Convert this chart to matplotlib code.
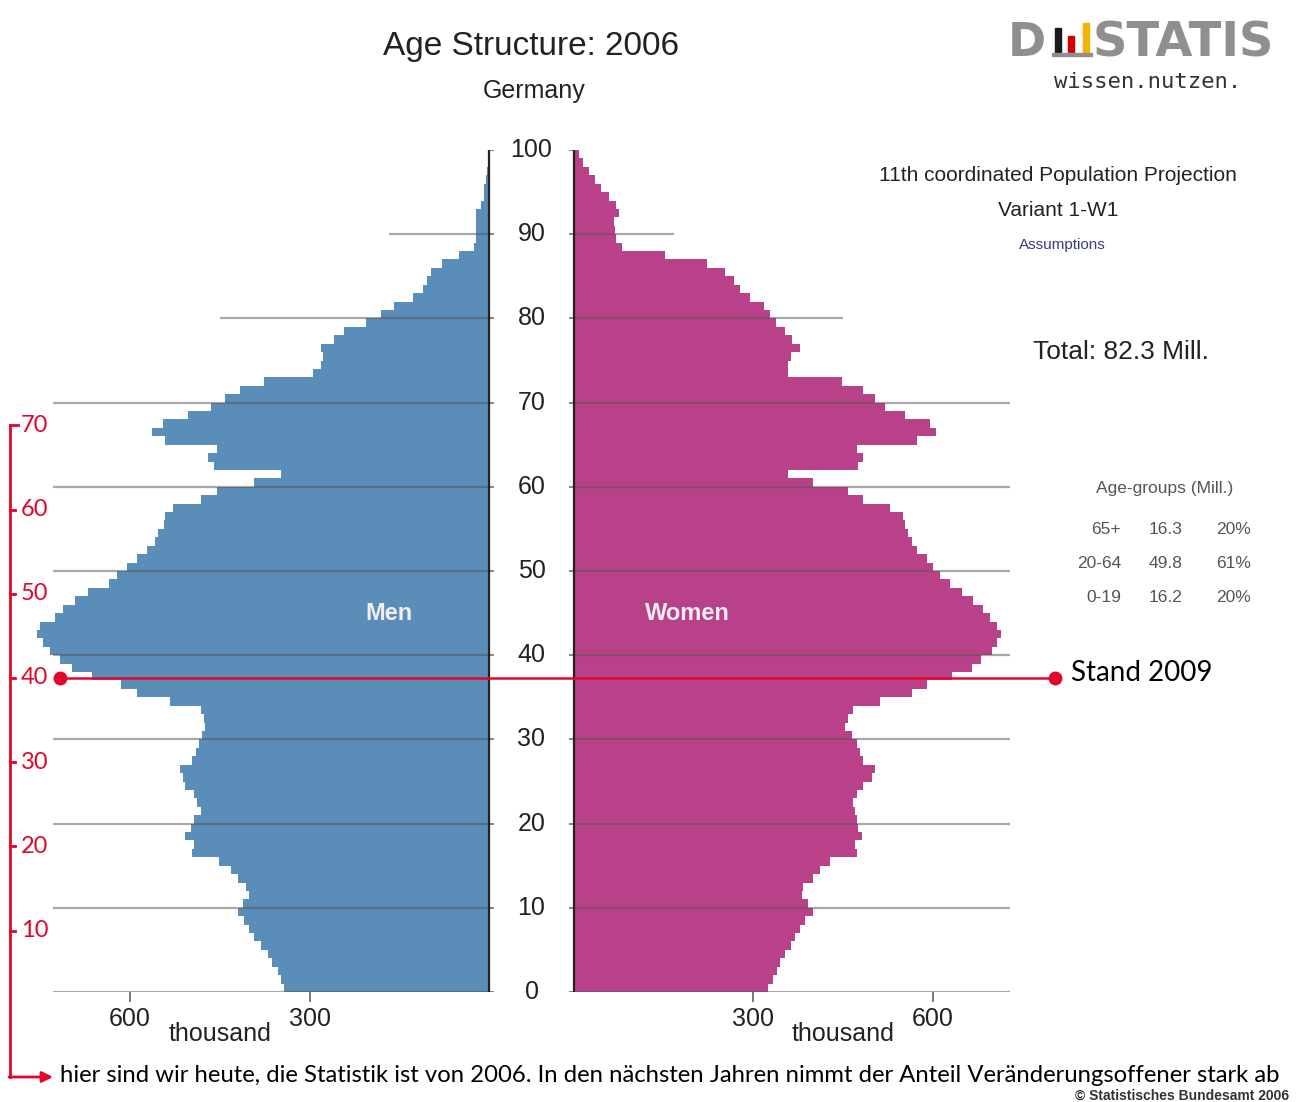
import matplotlib
matplotlib.use("Agg")
import matplotlib.pyplot as plt
import matplotlib.transforms as mtransforms
from matplotlib.patches import Rectangle
import numpy as np

# population by single year of age, thousands (age 0 .. 99)
ages = np.arange(0, 100)
men = [343, 348, 353, 362, 370, 382, 393, 402, 410, 419,
       412, 402, 407, 420, 432, 452, 496, 494, 508, 499,
       494, 482, 488, 494, 508, 511, 516, 496, 490, 485,
       479, 474, 477, 482, 533, 588, 616, 664, 697, 717,
       734, 745, 756, 750, 725, 712, 692, 670, 636, 622,
       605, 588, 571, 558, 553, 544, 541, 528, 482, 454,
       393, 348, 460, 469, 454, 541, 564, 545, 503, 464,
       441, 416, 377, 295, 281, 278, 281, 259, 242, 206,
       181, 159, 127, 111, 104, 97, 78, 50, 25, 22,
       22, 22, 22, 13, 8, 8, 5, 3, 2, 1]
women = [325, 332, 340, 345, 353, 362, 370, 378, 387, 400,
         392, 381, 383, 400, 412, 428, 473, 470, 481, 475,
         473, 470, 467, 473, 483, 498, 503, 483, 478, 473,
         465, 453, 458, 467, 512, 565, 590, 632, 665, 681,
         698, 707, 714, 708, 695, 683, 667, 648, 628, 612,
         600, 590, 573, 565, 558, 553, 550, 528, 483, 458,
         400, 358, 475, 483, 473, 573, 606, 595, 553, 520,
         503, 483, 448, 358, 358, 362, 378, 364, 353, 337,
         328, 317, 295, 278, 267, 253, 223, 153, 80, 70,
         68, 67, 75, 70, 58, 45, 35, 25, 15, 8]

age_ticks = [0, 10, 20, 30, 40, 50, 60, 70, 80, 90, 100]
x_ticks = [300, 600]

group_names = ["65+", "20-64", "0-19"]
group_mill = [16.3, 49.8, 16.2]
group_pct = [20, 61, 20]
total_mill = 82.3

red_ages = [70, 60, 50, 40, 30, 20, 10]
stand_age = 40

blue = "#5b8db9"
pink = "#b9418a"
red = "#e2062c"
txt = "#222222"
g = 71  # half of the gap between the two halves (thousand units)

W, H = 1296, 1102
def fx(px):
    return px / W
def fy(py):
    return 1 - py / H

fig = plt.figure(figsize=(12.96, 11.02), dpi=100)
ax = fig.add_axes([fx(35), 110 / H, 993 / W, 842 / H])
ax.set_xlim(-830, 830)
ax.set_ylim(0, 100)

edges = np.arange(0, 101)
ax.stairs(-g - np.array(men), edges, baseline=-g, orientation="horizontal",
          fill=True, color=blue, zorder=2)
ax.stairs(g + np.array(women), edges, baseline=g, orientation="horizontal",
          fill=True, color=pink, zorder=2)

# gridlines (upper ones are shorter)
for a in age_ticks[:-1]:
    reach = 800
    if a == 80:
        reach = 520
    if a == 90:
        reach = 238
    ax.hlines(a, -reach, -g, color="#555555", alpha=0.5, lw=1.6, zorder=3)
    ax.hlines(a, g, reach, color="#555555", alpha=0.5, lw=1.6, zorder=3)
for a in age_ticks:
    ax.hlines(a, -g, -g + 9, color="#888888", lw=1.4, zorder=3)
    ax.hlines(a, g - 9, g, color="#888888", lw=1.4, zorder=3)
    ax.text(0, a, str(a), ha="center", va="center", fontsize=18,
            color=txt, family="Liberation Sans", zorder=4)
ax.vlines([-g, g], 0, 100, color="#222222", lw=1.6, zorder=4)

for s in ax.spines.values():
    s.set_visible(False)
ax.set_yticks([])
ax.set_xticks([-(g + v) for v in x_ticks] + [g + v for v in x_ticks])
ax.set_xticklabels([str(v) for v in x_ticks] + [str(v) for v in x_ticks],
                   fontsize=18, color=txt, family="Liberation Sans")
ax.tick_params(axis="x", length=7, width=1.4, color="#777777", pad=4)
tb = mtransforms.blended_transform_factory(ax.transData, ax.transAxes)
for xc in [-(g + 450), g + 450]:
    ax.text(xc, -0.050, "thousand", transform=tb, ha="center", va="center",
            fontsize=18, color=txt, family="Liberation Sans")

ax.text(-(g + 168), 45.0, "Men", ha="center", va="center", fontsize=17,
        fontweight="bold", color="#f4eef4", family="Liberation Sans", zorder=5)
ax.text(g + 190, 45.0, "Women", ha="center", va="center", fontsize=17,
        fontweight="bold", color="#f4eef4", family="Liberation Sans", zorder=5)

# titles
fig.text(fx(531), fy(46), "Age Structure: 2006", ha="center", va="center",
         fontsize=24, color=txt, family="Liberation Sans")
fig.text(fx(534), fy(91), "Germany", ha="center", va="center",
         fontsize=18, color=txt, family="Liberation Sans")

fig.text(fx(1058), fy(176), "11th coordinated Population Projection",
         ha="center", va="center", fontsize=15, color=txt, family="Liberation Sans")
fig.text(fx(1058), fy(210), "Variant 1-W1", ha="center", va="center",
         fontsize=15, color=txt, family="Liberation Sans")
fig.text(fx(1062), fy(245), "Assumptions", ha="center", va="center",
         fontsize=11, color="#3a3a80", family="Liberation Sans")
fig.text(fx(1121), fy(352), "Total: %.1f Mill." % total_mill, ha="center",
         va="center", fontsize=19, color=txt, family="Liberation Sans")

fig.text(fx(1165), fy(489), "Age-groups (Mill.)", ha="center", va="center",
         fontsize=12.5, color="#555555", family="Liberation Sans")
for i, name in enumerate(group_names):
    yy = fy(530 + i * 34)
    fig.text(fx(1121), yy, name, ha="right", va="center", fontsize=12.5,
             color="#555555", family="Liberation Sans")
    fig.text(fx(1166), yy, "%.1f" % group_mill[i], ha="center", va="center",
             fontsize=12.5, color="#555555", family="Liberation Sans")
    fig.text(fx(1251), yy, "%d%%" % group_pct[i], ha="right", va="center",
             fontsize=12.5, color="#555555", family="Liberation Sans")

# logo
fig.text(fx(1008), fy(43), "D", ha="left", va="center", fontsize=33,
         fontweight="bold", color="#8f8f8f", family="DejaVu Sans")
fig.text(fx(1093), fy(43), "STATIS", ha="left", va="center", fontsize=34.5,
         fontweight="bold", color="#8f8f8f", family="DejaVu Sans")
for x0, top, col in [(1055, 28, "#1a1a1a"), (1068, 36, "#d40000"), (1083, 23, "#f2b400")]:
    fig.add_artist(Rectangle((fx(x0), fy(52)), 6 / W, (52 - top) / H,
                             transform=fig.transFigure, color=col))
fig.add_artist(Rectangle((fx(1052), fy(56)), 40 / W, 3 / H,
                         transform=fig.transFigure, color="#8f8f8f"))
fig.text(fx(1148), fy(82), "wissen.nutzen.", ha="center", va="center",
         fontsize=16, color="#333333", family="DejaVu Sans Mono")

# red annotations
tr = mtransforms.blended_transform_factory(fig.transFigure, ax.transData)
shift = 2.7
bottom_age = -(1077 - 992) / 8.42
ax.plot([fx(10), fx(10)], [red_ages[0] - shift, bottom_age], color=red, lw=2,
        transform=tr, clip_on=False, zorder=6)
for r in red_ages:
    end = 18 if r == red_ages[0] else 15
    ax.plot([fx(10), fx(end)], [r - shift, r - shift], color=red, lw=2,
            transform=tr, clip_on=False, zorder=6)
    ax.text(fx(21), r - shift, str(r), transform=tr, ha="left", va="center",
            fontsize=17, color=red, family="Lato", zorder=6)
ax.plot([fx(60), fx(1055)], [stand_age - shift] * 2, color=red, lw=1.8,
        marker="o", markersize=9, transform=tr, clip_on=False, zorder=6)
ax.text(fx(1071), stand_age - shift + 0.6, "Stand 2009", transform=tr,
        ha="left", va="center", fontsize=20, color="black", family="Lato")
ax.annotate("", xy=(fx(53), fy(1077)), xytext=(fx(9), fy(1077)),
            xycoords="figure fraction", textcoords="figure fraction",
            arrowprops=dict(arrowstyle="-|>", color=red, lw=2, mutation_scale=16,
                            shrinkA=0, shrinkB=0))
fig.text(fx(60), fy(1076),
         "hier sind wir heute, die Statistik ist von 2006. In den nächsten Jahren "
         "nimmt der Anteil Veränderungsoffener stark ab",
         ha="left", va="center", fontsize=17.2, color="black", family="Lato")
fig.text(fx(1289), fy(1096), "© Statistisches Bundesamt 2006", ha="right",
         va="center", fontsize=10, fontweight="bold", color="#333333",
         family="Liberation Sans")

fig.savefig("out.png", dpi=100)
